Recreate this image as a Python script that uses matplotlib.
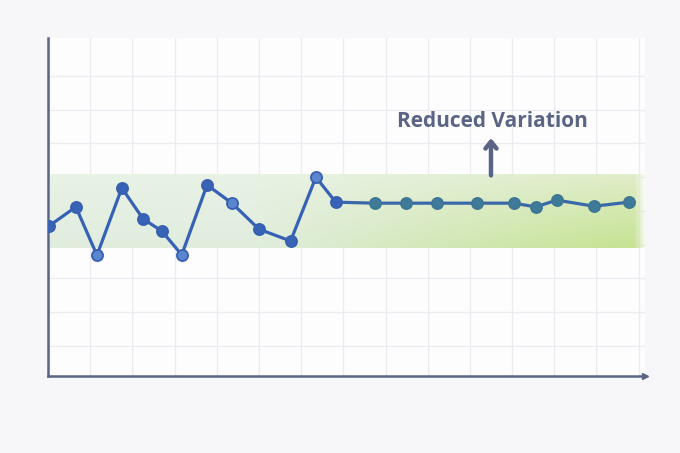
import numpy as np
import matplotlib.pyplot as plt

x_vals = [0.02, 0.66, 1.16, 1.75, 2.25, 2.7, 3.17, 3.77, 4.36, 5.0, 5.75,
          6.35, 6.82, 7.75, 8.48, 9.22, 10.16, 11.04, 11.56, 12.06, 12.94, 13.77]
y_vals = [4.43, 5.0, 3.57, 5.56, 4.65, 4.28, 3.58, 5.65, 5.11, 4.34, 3.99,
          5.88, 5.14, 5.11, 5.11, 5.11, 5.11, 5.11, 5.0, 5.2, 5.02, 5.14]
light_pts = [2, 6, 8, 11]      # markers with a lighter fill
split = 12                     # first point of the stable part
band_low, band_high = 3.77, 5.96
label = "Reduced Variation"

ink = '#5a6485'
blue = '#3761b4'
teal = '#3f7b98'

fig = plt.figure(figsize=(6.8, 4.53), dpi=100, facecolor='#f7f7fa')
ax = fig.add_axes([0.0706, 0.1706, 0.8779, 0.7454])
ax.set_facecolor('#fdfdfe')

# grid
for gx in np.arange(1, 14.1, 1.0):
    ax.axvline(gx, color='#ebebf0', lw=0.9, zorder=0)
for gy in np.arange(0.88, 9.0, 1.0):
    ax.axhline(gy, color='#ebebf0', lw=0.9, zorder=0)

# green band with gradient (colour goes from pale on the left to green on the right)
nx, ny = 400, 60
gx = np.linspace(0, 1, nx)[None, :, None]
gy = np.linspace(0, 1, ny)[:, None, None]   # 0 = bottom, 1 = top
t = np.clip((gx - 0.33) / 0.62, 0, 1)
left_bot = np.array([0.88, 0.93, 0.87])
left_top = np.array([0.91, 0.95, 0.90])
right_bot = np.array([0.78, 0.89, 0.58])
right_top = np.array([0.88, 0.93, 0.79])
left = left_bot * (1 - gy) + left_top * gy
right = right_bot * (1 - gy) + right_top * gy
rgb = left * (1 - t) + right * t
fade = np.clip((1 - gx[..., 0]) / 0.02, 0, 1)
rgba = np.zeros((ny, nx, 4))
rgba[..., :3] = rgb
rgba[..., 3] = np.broadcast_to(fade, (ny, nx))
ax.imshow(rgba, extent=[0.05, 14.2, band_low, band_high], aspect='auto',
          origin='lower', zorder=1, interpolation='bilinear')
ax.set_xlim(0, 14.15)
ax.set_ylim(0, 10)

# line
ax.plot(x_vals[:split + 1], y_vals[:split + 1], color=blue, lw=2.3, zorder=3,
        solid_joinstyle='round')
ax.plot(x_vals[split:], y_vals[split:], color='#3b68a8', lw=2.3, zorder=3,
        solid_joinstyle='round')

# markers
for i, (xv, yv) in enumerate(zip(x_vals, y_vals)):
    if i <= split:
        face = '#5a85cf' if i in light_pts else '#3963b6'
        edge = '#3760b0'
    else:
        face = teal
        edge = '#3d7794'
    ax.plot(xv, yv, 'o', ms=8, mfc=face, mec=edge, mew=1.3, zorder=4)

# annotation
ax.text(10.53, 7.52, label, ha='center', va='center', fontsize=15,
        fontweight='bold', color=ink, family='Open Sans', zorder=5)
ax.annotate('', xy=(10.5, 7.12), xytext=(10.5, 5.85),
            arrowprops=dict(arrowstyle='->,head_width=0.4,head_length=0.5',
                            color=ink, lw=3.2, capstyle='round',
                            joinstyle='round'), zorder=5)

# axes
for s in ['top', 'right']:
    ax.spines[s].set_visible(False)
for s in ['left', 'bottom']:
    ax.spines[s].set_color(ink)
    ax.spines[s].set_linewidth(1.8)
ax.plot(1, 0, '>', color=ink, ms=4, transform=ax.transAxes, clip_on=False)
ax.set_xticks([])
ax.set_yticks([])

fig.savefig('out.png', dpi=100, facecolor=fig.get_facecolor())
